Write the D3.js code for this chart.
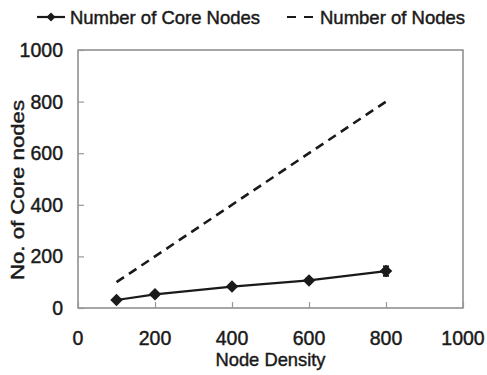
<!DOCTYPE html>
<html>
<head>
<meta charset="utf-8">
<script src="https://cdn.jsdelivr.net/npm/d3@7/dist/d3.min.js"></script>
<style>
  html, body { margin: 0; padding: 0; background: #fff; }
  svg { display: block; font-family: "Liberation Sans", Arial, Helvetica, sans-serif; }
  .lbl { stroke: #1a1a1a; stroke-width: 0.45px; }
</style>
</head>
<body>
<svg id="chart" width="487" height="375"></svg>
<script>
// Node density on the x axis
const densities = [100, 200, 400, 600, 800];
// Core nodes found at each density, with spread
const coreNodes = [31, 53, 83, 107, 143];
const coreErr = [4, 5, 6, 7, 18];
// Total node count at each end of the dashed reference line
const nodeDensities = [100, 800];
const totalNodes = [100, 800];
// Axis ticks
const xTicks = [0, 200, 400, 600, 800, 1000];
const yTicks = [0, 200, 400, 600, 800, 1000];
const seriesNames = ["Number of Core Nodes", "Number of Nodes"];

const svg = d3.select("#chart");
const margin = { left: 78, right: 24, top: 50, bottom: 67 };
const W = 487, H = 375;

const x = d3.scaleLinear().domain([0, 1000]).range([margin.left, W - margin.right]);
const y = d3.scaleLinear().domain([0, 1000]).range([H - margin.bottom, margin.top]);

const frameColor = "#777";
const ink = "#1a1a1a";

// plot frame
svg.append("rect")
  .attr("x", x(0)).attr("y", y(1000))
  .attr("width", x(1000) - x(0)).attr("height", y(0) - y(1000))
  .attr("fill", "none").attr("stroke", frameColor).attr("stroke-width", 1.3);

// y axis: inward ticks, labels on the left
const yAxis = svg.append("g").attr("transform", `translate(${x(0)},0)`)
  .call(d3.axisRight(y).tickValues(yTicks).tickSize(6).tickFormat(""));
yAxis.select(".domain").remove();
yAxis.selectAll(".tick line").attr("stroke", "#999").attr("stroke-width", 1.2);
svg.append("g").selectAll("text").data(yTicks).join("text")
  .attr("class", "lbl")
  .attr("x", x(0) - 15).attr("y", d => y(d)).attr("dy", "0.36em")
  .attr("text-anchor", "end").attr("font-size", 19.5).attr("fill", ink)
  .text(d => d);

// x axis: inward ticks, labels below
const xAxis = svg.append("g").attr("transform", `translate(0,${y(0)})`)
  .call(d3.axisTop(x).tickValues(xTicks).tickSize(6).tickFormat(""));
xAxis.select(".domain").remove();
xAxis.selectAll(".tick line").attr("stroke", "#999").attr("stroke-width", 1.2);
svg.append("g").selectAll("text").data(xTicks).join("text")
  .attr("class", "lbl")
  .attr("x", d => x(d)).attr("y", y(0) + 37)
  .attr("text-anchor", "middle").attr("font-size", 19.5).attr("fill", ink)
  .text(d => d);

// axis titles
svg.append("text").attr("class", "lbl")
  .attr("x", (x(0) + x(1000)) / 2).attr("y", 366)
  .attr("text-anchor", "middle").attr("font-size", 19).attr("fill", ink)
  .attr("textLength", 110).attr("lengthAdjust", "spacingAndGlyphs")
  .text("Node Density");
svg.append("text").attr("class", "lbl")
  .attr("transform", `translate(24,190) rotate(-90)`)
  .attr("text-anchor", "middle").attr("font-size", 19).attr("fill", ink)
  .attr("textLength", 180).attr("lengthAdjust", "spacingAndGlyphs")
  .text("No. of Core nodes");

// total nodes: dashed line
svg.append("path")
  .datum(nodeDensities.map((d, i) => [d, totalNodes[i]]))
  .attr("d", d3.line().x(d => x(d[0])).y(d => y(d[1])))
  .attr("fill", "none").attr("stroke", ink).attr("stroke-width", 2.6)
  .attr("stroke-dasharray", "9,6");

// core nodes: solid line with diamond markers and error bars
const core = densities.map((d, i) => ({ x: d, y: coreNodes[i], e: coreErr[i] }));
svg.append("path")
  .datum(core)
  .attr("d", d3.line().x(d => x(d.x)).y(d => y(d.y)))
  .attr("fill", "none").attr("stroke", ink).attr("stroke-width", 2.2);
svg.append("g").selectAll("line").data(core).join("line")
  .attr("x1", d => x(d.x)).attr("x2", d => x(d.x))
  .attr("y1", d => y(d.y - d.e)).attr("y2", d => y(d.y + d.e))
  .attr("stroke", ink).attr("stroke-width", 2);
svg.append("g").selectAll("line").data(core.flatMap(d => [d.y - d.e, d.y + d.e].map(v => ({ x: d.x, v })))).join("line")
  .attr("x1", d => x(d.x) - 3).attr("x2", d => x(d.x) + 3)
  .attr("y1", d => y(d.v)).attr("y2", d => y(d.v))
  .attr("stroke", ink).attr("stroke-width", 2);
svg.append("g").selectAll("path").data(core).join("path")
  .attr("transform", d => `translate(${x(d.x)},${y(d.y)}) rotate(45)`)
  .attr("d", d3.symbol().type(d3.symbolSquare).size(78))
  .attr("fill", ink);

// legend
const legY = 17;
const leg = svg.append("g");
leg.append("line").attr("x1", 37).attr("x2", 65).attr("y1", legY).attr("y2", legY)
  .attr("stroke", ink).attr("stroke-width", 2.2);
leg.append("path").attr("transform", `translate(51,${legY}) rotate(45)`)
  .attr("d", d3.symbol().type(d3.symbolSquare).size(40)).attr("fill", ink);
leg.append("text").attr("class", "lbl")
  .attr("x", 70).attr("y", legY).attr("dy", "0.36em")
  .attr("font-size", 18.5).attr("fill", ink)
  .attr("textLength", 190).attr("lengthAdjust", "spacingAndGlyphs")
  .text(seriesNames[0]);
leg.append("line").attr("x1", 287).attr("x2", 313).attr("y1", legY).attr("y2", legY)
  .attr("stroke", ink).attr("stroke-width", 2.2).attr("stroke-dasharray", "9,8");
leg.append("text").attr("class", "lbl")
  .attr("x", 320).attr("y", legY).attr("dy", "0.36em")
  .attr("font-size", 18.5).attr("fill", ink)
  .attr("textLength", 145).attr("lengthAdjust", "spacingAndGlyphs")
  .text(seriesNames[1]);
</script>
</body>
</html>
